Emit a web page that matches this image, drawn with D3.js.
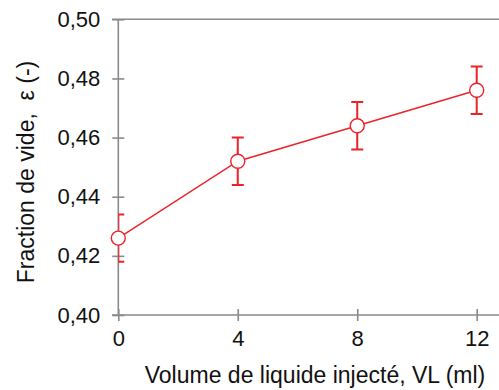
<!DOCTYPE html>
<html><head><meta charset="utf-8">
<script src="https://cdn.jsdelivr.net/npm/d3@7"></script>
<style>body{margin:0;background:#fff}svg{display:block}text{font-family:"Liberation Sans",Arial,sans-serif;fill:#111}</style>
</head><body>
<script>
const volumes = [0, 4, 8, 12];
const voidFraction = [0.426, 0.452, 0.464, 0.476];
const errors = [0.008, 0.008, 0.008, 0.008];
const xTicks = [0, 4, 8, 12];
const yTicks = [0.40, 0.42, 0.44, 0.46, 0.48, 0.50];
const xTitle = "Volume de liquide injecté, VL (ml)";
const yTitle = "Fraction de vide,\u00a0 ε (-)";

const W = 499, H = 390;
const svg = d3.select("body").append("svg").attr("width", W).attr("height", H);
const x = d3.scaleLinear().domain([0, 12]).range([118.3, 476.7]);
const y = d3.scaleLinear().domain([0.40, 0.50]).range([315, 19.3]);
const axisColor = "#8a8a8a";
const red = "#ec2229";

// top frame line
svg.append("line").attr("x1", 112).attr("x2", W).attr("y1", y(0.5)).attr("y2", y(0.5))
  .attr("stroke", axisColor).attr("stroke-width", 1.6);

const fmt = d => d3.format(".2f")(d).replace(".", ",");
const gy = svg.append("g").attr("transform", `translate(${x(0)},0)`)
  .call(d3.axisLeft(y).tickValues(yTicks).tickFormat(fmt).tickSize(6).tickPadding(12));
gy.selectAll(".tick line").attr("x2", 6).attr("x1", -6);
const gx = svg.append("g").attr("transform", `translate(0,${y(0.4)})`)
  .call(d3.axisBottom(x).tickValues(xTicks).tickSize(6).tickPadding(9));
gx.selectAll(".tick line").attr("y1", -6).attr("y2", 6);
gx.select(".domain").attr("d", `M112,0H${W}`);
gy.select(".domain").attr("d", `M0,${y(0.5)}V${y(0.4)}`);
[gx, gy].forEach(g => {
  g.selectAll(".domain, .tick line").attr("stroke", axisColor).attr("stroke-width", 1.6);
  g.selectAll(".tick text").attr("font-size", 22).attr("fill", "#111")
    .attr("font-family", "Liberation Sans, Arial, sans-serif");
});

svg.append("text").attr("x", 315).attr("y", 383).attr("text-anchor", "middle")
  .attr("font-size", 23).text(xTitle);
svg.append("text").attr("transform", `translate(34,172) rotate(-90)`).attr("text-anchor", "middle")
  .attr("font-size", 23).text(yTitle);

const data = volumes.map((v, i) => ({v, f: voidFraction[i], e: errors[i]}));
const defs = svg.append("defs");
defs.append("clipPath").attr("id", "clip").append("rect")
  .attr("x", x(0)).attr("y", 0).attr("width", W).attr("height", H);

const eb = svg.append("g").attr("clip-path", "url(#clip)").attr("stroke", red).attr("stroke-width", 2);
data.forEach(d => {
  eb.append("line").attr("x1", x(d.v)).attr("x2", x(d.v)).attr("y1", y(d.f + d.e)).attr("y2", y(d.f - d.e));
  [d.f + d.e, d.f - d.e].forEach(t => eb.append("line")
    .attr("x1", x(d.v) - 6).attr("x2", x(d.v) + 6).attr("y1", y(t)).attr("y2", y(t)));
});

svg.append("path").datum(data)
  .attr("d", d3.line().x(d => x(d.v)).y(d => y(d.f)))
  .attr("fill", "none").attr("stroke", red).attr("stroke-width", 1.4);
svg.selectAll("circle.pt").data(data).join("circle").attr("class", "pt")
  .attr("cx", d => x(d.v)).attr("cy", d => y(d.f)).attr("r", 7)
  .attr("fill", "#fff").attr("stroke", red).attr("stroke-width", 1.4);
</script>
</body></html>
